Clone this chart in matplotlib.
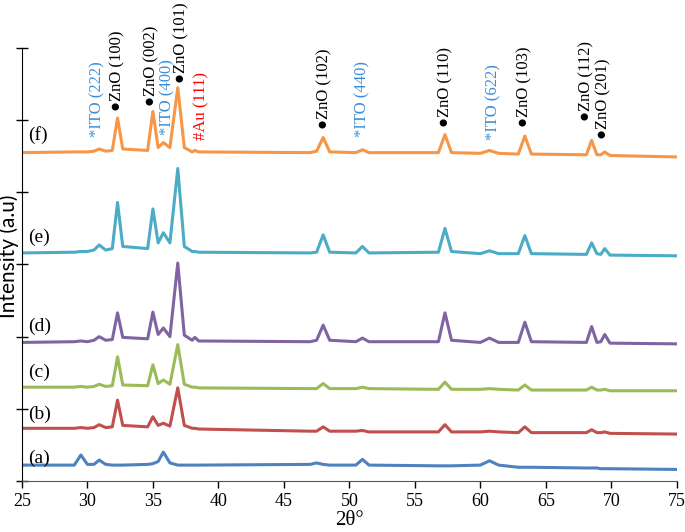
import matplotlib
matplotlib.use("Agg")
import matplotlib.pyplot as plt

two_theta = [25.0, 29.0, 29.5, 30.0, 30.5, 30.9, 31.4, 31.9, 32.3, 32.7,
             34.6, 35.0, 35.4, 35.8, 36.3, 36.9, 37.4, 38.0, 38.2, 38.5,
             47.0, 47.5, 48.0, 48.5, 50.5, 51.0, 51.5, 56.8, 57.3, 57.8,
             60.0, 60.7, 61.4, 62.9, 63.4, 63.9, 68.1, 68.5, 68.9, 69.2,
             69.5, 69.9, 75.0]

# stacked intensities (a.u., offset already included)
int_a = [0.22, 0.22, 0.36, 0.23, 0.23, 0.29, 0.23, 0.22, 0.22, 0.22,
         0.23, 0.24, 0.27, 0.40, 0.25, 0.22, 0.22, 0.22, 0.22, 0.22,
         0.23, 0.25, 0.23, 0.22, 0.22, 0.30, 0.22, 0.21, 0.21, 0.21,
         0.22, 0.28, 0.22, 0.19, 0.19, 0.19, 0.18, 0.18, 0.18, 0.17,
         0.17, 0.17, 0.16]
int_b = [0.73, 0.73, 0.74, 0.73, 0.74, 0.78, 0.74, 0.75, 1.12, 0.77,
         0.75, 0.89, 0.77, 0.80, 0.76, 1.29, 0.77, 0.73, 0.73, 0.72,
         0.69, 0.69, 0.75, 0.69, 0.69, 0.70, 0.68, 0.68, 0.78, 0.68,
         0.68, 0.69, 0.68, 0.67, 0.75, 0.67, 0.67, 0.71, 0.67, 0.67,
         0.68, 0.66, 0.65]
int_c = [1.30, 1.30, 1.31, 1.30, 1.31, 1.34, 1.31, 1.32, 1.72, 1.33,
         1.32, 1.61, 1.35, 1.40, 1.34, 1.89, 1.34, 1.30, 1.30, 1.29,
         1.28, 1.28, 1.35, 1.28, 1.28, 1.30, 1.28, 1.27, 1.37, 1.27,
         1.27, 1.28, 1.27, 1.26, 1.33, 1.26, 1.26, 1.30, 1.26, 1.26,
         1.27, 1.25, 1.25]
int_d = [1.92, 1.93, 1.94, 1.93, 1.95, 2.00, 1.95, 1.96, 2.33, 1.99,
         1.97, 2.34, 2.03, 2.12, 2.00, 3.02, 2.02, 1.95, 1.99, 1.94,
         1.93, 1.95, 2.16, 1.95, 1.93, 1.98, 1.93, 1.93, 2.33, 1.95,
         1.92, 1.98, 1.92, 1.92, 2.20, 1.93, 1.92, 2.14, 1.92, 1.93,
         2.03, 1.91, 1.90]
int_e = [3.16, 3.17, 3.18, 3.18, 3.20, 3.27, 3.20, 3.22, 3.86, 3.25,
         3.22, 3.77, 3.30, 3.44, 3.30, 4.33, 3.25, 3.18, 3.18, 3.17,
         3.16, 3.17, 3.41, 3.17, 3.16, 3.25, 3.16, 3.17, 3.50, 3.18,
         3.15, 3.19, 3.15, 3.15, 3.40, 3.15, 3.14, 3.30, 3.15, 3.14,
         3.22, 3.13, 3.12]
int_f = [4.55, 4.56, 4.56, 4.56, 4.57, 4.60, 4.57, 4.58, 5.03, 4.60,
         4.58, 5.12, 4.62, 4.69, 4.62, 5.45, 4.62, 4.56, 4.58, 4.56,
         4.55, 4.57, 4.76, 4.56, 4.55, 4.59, 4.55, 4.55, 4.80, 4.55,
         4.54, 4.58, 4.54, 4.53, 4.78, 4.53, 4.52, 4.72, 4.52, 4.52,
         4.56, 4.51, 4.49]

series = [int_a, int_b, int_c, int_d, int_e, int_f]
sample_labels = ["(a)", "(b)", "(c)", "(d)", "(e)", "(f)"]
label_y = [0.32, 0.92, 1.51, 2.14, 3.38, 4.80]
colors = ["#4F81BD", "#C0504D", "#9BBB59", "#8064A2", "#4BACC6", "#F79646"]

# peak annotations: text, 2theta, y of text bottom, color
peak_text = ["*ITO (222)", "\u25cfZnO (100)", "\u25cfZnO (002)", "*ITO (400)",
             "\u25cfZnO (101)", "#Au (111)", "\u25cfZnO (102)", "*ITO (440)",
             "\u25cfZnO (110)", "*ITO (622)", "\u25cfZnO (103)",
             "\u25cfZnO (112)", "\u25cfZnO (201)"]
peak_x = [30.8, 32.3, 34.9, 36.1, 37.2, 38.7, 48.1, 51.0, 57.3, 61.0,
          63.4, 68.1, 69.4]
peak_y = [4.76, 5.13, 5.20, 4.80, 5.52, 4.73, 4.88, 4.76, 4.90, 4.73,
          4.90, 4.99, 4.74]
peak_color = ["#3A8FD9", "black", "black", "#3A8FD9", "black", "red",
              "black", "#3A8FD9", "black", "#3A8FD9", "black", "black",
              "black"]

serif = ["Liberation Serif", "DejaVu Serif"]

fig = plt.figure(figsize=(6.85, 5.32), dpi=100)
ax = fig.add_axes([0.032, 0.0959, 0.956, 0.8139])

for vals, col in zip(series, colors):
    ax.plot(two_theta, vals, color=col, linewidth=2.2)

for lab, ly in zip(sample_labels, label_y):
    ax.text(25.5, ly, lab, family=serif, fontsize=14, ha="left", va="center")

for txt, px, py, pc in zip(peak_text, peak_x, peak_y, peak_color):
    ax.text(px, py, txt, family=serif, fontsize=12, color=pc, rotation=90,
            ha="center", va="bottom", clip_on=False)

ax.set_xlim(25, 75)
ax.set_ylim(0, 6)
ax.set_xticks(range(25, 76, 5))
ax.set_yticks(range(0, 7))
ax.set_yticklabels([])
for lab in ax.get_xticklabels():
    lab.set_family(serif)
ax.tick_params(axis="x", labelsize=13, direction="out", length=5, width=1)
ax.tick_params(axis="y", direction="inout", length=9, width=1)
ax.spines["top"].set_visible(False)
ax.spines["right"].set_visible(False)
ax.spines["bottom"].set_color("#555555")

ax.set_xlabel("2\u03b8\u00b0", family=serif, fontsize=15, labelpad=1)
ax.set_ylabel("Intensity (a.u)", family=["Lato", "DejaVu Sans"], fontsize=15)
ax.yaxis.set_label_coords(-0.004, 0.52)

fig.savefig("out.png", dpi=100)
